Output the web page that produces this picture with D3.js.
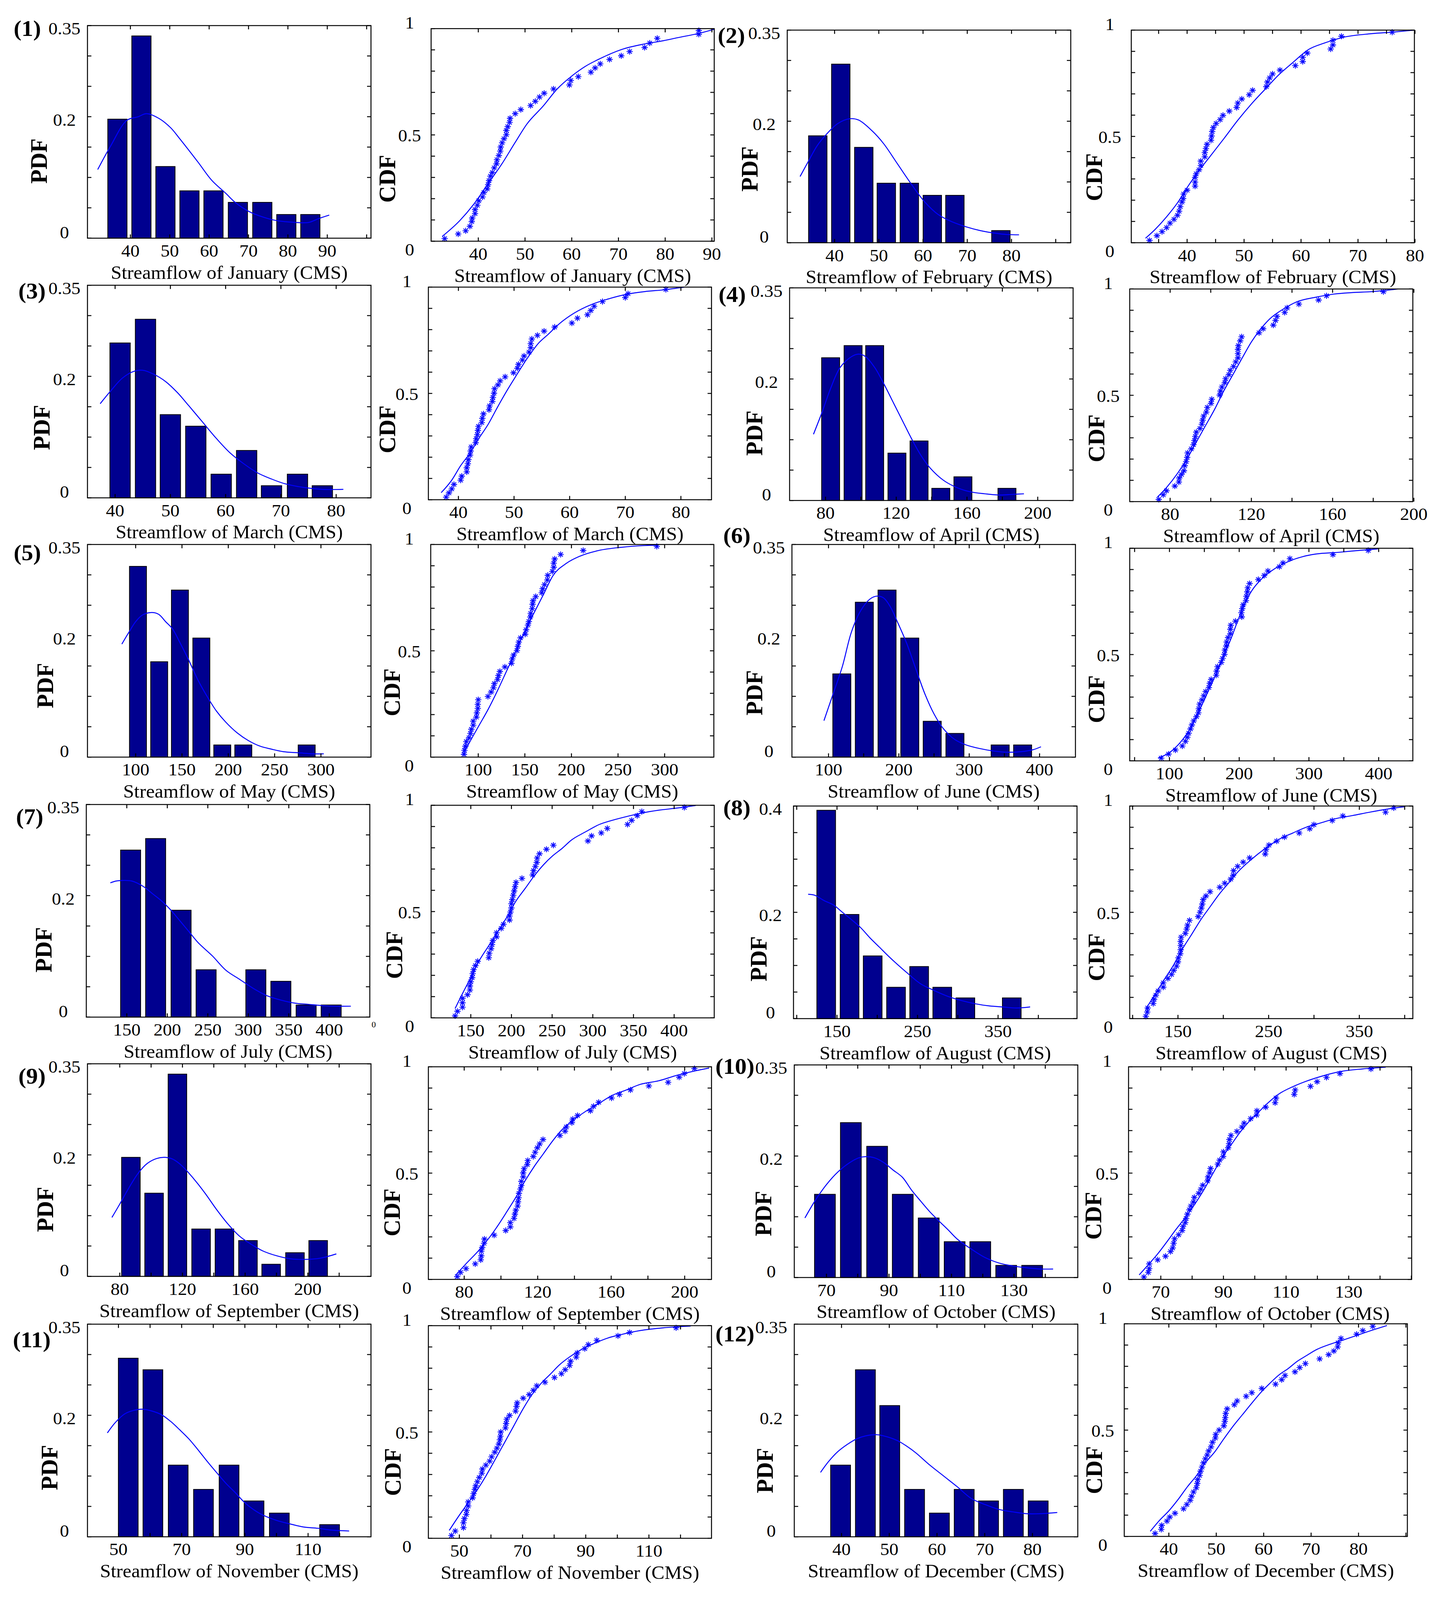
<!DOCTYPE html>
<html>
<head>
<meta charset="utf-8">
<script src="https://cdn.jsdelivr.net/npm/d3@7"></script>
<style>
  html, body { margin: 0; padding: 0; background: #fff; overflow: hidden; }
  svg { display: block; }
  text { font-family: "Liberation Serif", "Times New Roman", serif; fill: #000; }
</style>
</head>
<body>
<div id="chart"></div>
<script>
"use strict";

// ---- data ----
const months = ["January", "February", "March", "April", "May", "June",
  "July", "August", "September", "October", "November", "December"];

// histogram bin centres (CMS) and relative frequency
const binCenters = [
  [36.7, 42.8, 48.9, 55.0, 61.1, 67.3, 73.5, 79.6, 85.7],
  [36.2, 41.4, 46.6, 51.7, 56.9, 62.1, 67.2, 72.4, 77.6],
  [40.9, 45.5, 50.0, 54.6, 59.2, 63.8, 68.3, 73.0, 77.5],
  [82.9, 95.6, 107.8, 120.4, 132.9, 145.2, 157.7, 170.1, 182.6],
  [102.5, 125.4, 147.8, 170.9, 193.5, 216.2, 239.1, 262.0, 284.6],
  [118.9, 150.9, 183.2, 215.5, 247.4, 279.7, 312.0, 344.0, 375.9],
  [154.7, 185.6, 217.0, 247.9, 278.8, 309.3, 340.2, 371.4, 402.3],
  [136.6, 165.6, 194.3, 223.3, 252.0, 280.7, 309.4, 338.1, 367.0],
  [87.1, 101.9, 116.8, 131.9, 146.8, 161.8, 176.6, 191.8, 206.6],
  [69.5, 77.8, 86.2, 94.4, 102.7, 111.0, 119.2, 127.5, 135.8],
  [53.1, 60.9, 68.9, 76.9, 85.0, 92.9, 100.9, 108.8, 116.8],
  [39.8, 45.0, 50.1, 55.3, 60.5, 65.7, 70.8, 76.0, 81.2]
];
const binFreq = [
  [0.196, 0.333, 0.118, 0.078, 0.078, 0.059, 0.059, 0.039, 0.039],
  [0.176, 0.294, 0.157, 0.098, 0.098, 0.078, 0.078, 0, 0.020],
  [0.255, 0.294, 0.137, 0.118, 0.039, 0.078, 0.020, 0.039, 0.020],
  [0.235, 0.255, 0.255, 0.078, 0.098, 0.020, 0.039, 0, 0.020],
  [0.314, 0.157, 0.275, 0.196, 0.020, 0.020, 0, 0, 0.020],
  [0.137, 0.255, 0.275, 0.196, 0.059, 0.039, 0, 0.020, 0.020],
  [0.275, 0.294, 0.176, 0.078, 0, 0.078, 0.059, 0.020, 0.020],
  [0.392, 0.196, 0.118, 0.059, 0.098, 0.059, 0.039, 0, 0.039],
  [0.196, 0.137, 0.333, 0.078, 0.078, 0.059, 0.020, 0.039, 0.059],
  [0.137, 0.255, 0.216, 0.137, 0.098, 0.059, 0.059, 0.020, 0.020],
  [0.294, 0.275, 0.118, 0.078, 0.118, 0.059, 0.039, 0, 0.020],
  [0.118, 0.275, 0.216, 0.078, 0.039, 0.078, 0.059, 0.078, 0.059]
];

// fitted pdf curves [x, density]
const pdfFit = [
  [[31.7,0.113],[35.0,0.152],[39.1,0.194],[42.0,0.200],[44.1,0.205],[47.3,0.197],[50.2,0.182],[52.5,0.164],[57.2,0.125],[60.7,0.095],[64.2,0.074],[66.6,0.059],[70.1,0.044],[73.6,0.035],[77.1,0.029],[81.8,0.026],[85.3,0.026],[87.7,0.032],[90.5,0.038]],
  [[32.2,0.109],[34.0,0.133],[36.1,0.160],[38.1,0.178],[40.7,0.196],[43.3,0.204],[45.4,0.202],[48.5,0.184],[51.1,0.163],[54.2,0.130],[57.3,0.097],[60.4,0.067],[63.5,0.046],[66.7,0.034],[69.8,0.026],[72.9,0.020],[76.0,0.016],[79.1,0.0135],[81.7,0.013]],
  [[37.3,0.155],[39.2,0.176],[41.3,0.197],[43.3,0.208],[45.0,0.210],[47.1,0.203],[49.2,0.191],[51.3,0.173],[53.3,0.152],[55.8,0.125],[58.3,0.098],[60.8,0.074],[63.3,0.056],[65.8,0.041],[68.3,0.031],[70.8,0.023],[74.2,0.017],[77.5,0.014],[81.3,0.014]],
  [[73.2,0.109],[77.9,0.144],[83.1,0.186],[88.3,0.219],[94.8,0.237],[98.7,0.241],[102.6,0.237],[107.8,0.219],[113.0,0.192],[118.2,0.162],[123.4,0.132],[128.6,0.102],[133.8,0.075],[139.0,0.054],[146.8,0.033],[154.5,0.021],[162.3,0.014],[170.1,0.011],[177.9,0.009],[185.7,0.010],[192.2,0.011]],
  [[85.1,0.186],[92.5,0.205],[100.0,0.223],[107.5,0.234],[117.4,0.238],[124.9,0.235],[132.3,0.223],[139.8,0.211],[147.3,0.190],[157.2,0.160],[167.2,0.127],[177.1,0.100],[187.1,0.076],[197.0,0.058],[209.5,0.040],[221.9,0.027],[234.3,0.018],[246.8,0.013],[259.2,0.009],[276.6,0.007],[291.5,0.0054],[303.0,0.0054]],
  [[93.5,0.060],[106.5,0.104],[119.6,0.149],[132.6,0.206],[145.7,0.241],[158.7,0.260],[168.5,0.265],[178.3,0.262],[188.1,0.247],[197.8,0.223],[210.9,0.188],[223.9,0.146],[237.0,0.104],[250.0,0.071],[263.1,0.047],[279.4,0.029],[295.7,0.020],[315.3,0.014],[334.8,0.010],[354.4,0.008],[373.9,0.009],[390.3,0.012],[402.0,0.017]],
  [[129.7,0.221],[136.5,0.224],[145.0,0.225],[156.4,0.224],[170.5,0.215],[181.9,0.203],[193.2,0.191],[204.5,0.176],[215.9,0.158],[227.2,0.140],[238.5,0.122],[255.5,0.101],[272.5,0.077],[289.5,0.062],[306.5,0.047],[323.5,0.035],[340.5,0.028],[357.5,0.023],[374.5,0.021],[391.5,0.019],[408.5,0.018],[426.6,0.018]],
  [[114.2,0.234],[122.7,0.232],[134.1,0.222],[145.5,0.214],[156.8,0.200],[168.2,0.186],[179.5,0.171],[190.9,0.152],[202.3,0.135],[213.6,0.118],[225.0,0.102],[236.4,0.087],[253.4,0.066],[270.5,0.053],[287.5,0.042],[304.5,0.034],[321.6,0.028],[338.6,0.024],[355.7,0.022],[372.7,0.020],[389.8,0.022]],
  [[75.0,0.097],[80.0,0.119],[85.9,0.146],[91.8,0.170],[97.6,0.186],[103.5,0.194],[108.8,0.196],[113.8,0.193],[119.7,0.182],[127.1,0.161],[134.4,0.137],[141.8,0.110],[149.1,0.086],[156.5,0.066],[163.8,0.053],[171.2,0.042],[180.0,0.034],[188.8,0.029],[199.1,0.028],[208.0,0.030],[218.2,0.037]],
  [[63.1,0.098],[66.3,0.126],[70.0,0.153],[73.7,0.174],[77.4,0.189],[80.3,0.197],[82.5,0.199],[85.4,0.197],[88.4,0.189],[91.3,0.177],[94.3,0.165],[97.2,0.144],[100.1,0.126],[103.1,0.108],[106.0,0.093],[109.0,0.078],[111.9,0.063],[116.3,0.047],[120.7,0.033],[125.1,0.024],[129.6,0.019],[134.0,0.016],[138.4,0.014],[142.5,0.014]],
  [[46.5,0.171],[49.0,0.188],[51.9,0.202],[54.8,0.208],[57.7,0.210],[60.6,0.207],[63.6,0.201],[66.5,0.190],[69.4,0.176],[72.3,0.161],[75.2,0.143],[78.1,0.124],[81.0,0.106],[84.0,0.088],[86.9,0.073],[89.8,0.057],[92.7,0.045],[95.6,0.036],[100.0,0.027],[104.4,0.021],[108.7,0.016],[113.1,0.014],[117.5,0.011],[123.0,0.0095]],
  [[35.6,0.106],[37.3,0.124],[39.2,0.140],[41.2,0.152],[43.1,0.161],[45.0,0.166],[47.4,0.168],[49.8,0.164],[51.8,0.158],[53.7,0.149],[55.6,0.138],[58.5,0.118],[61.4,0.100],[64.3,0.082],[67.2,0.063],[70.1,0.053],[73.0,0.045],[75.9,0.041],[78.7,0.038],[81.6,0.038],[83.6,0.039],[85.2,0.040]]
];

// fitted cdf curves [x, F]
const cdfFit = [
  [[32.3,0.023],[36.0,0.096],[39.0,0.173],[42.0,0.268],[45.0,0.362],[47.9,0.465],[50.4,0.551],[53.9,0.636],[56.8,0.714],[60.3,0.782],[62.8,0.821],[65.7,0.855],[70.7,0.902],[75.6,0.928],[79.6,0.943],[82.6,0.957],[87.5,0.979],[90.5,0.997]],
  [[32.7,0.021],[34.4,0.063],[36.4,0.122],[38.4,0.191],[40.0,0.259],[42.0,0.336],[44.0,0.405],[46.5,0.491],[48.9,0.576],[51.3,0.653],[53.7,0.722],[56.1,0.790],[58.5,0.846],[61.4,0.910],[64.2,0.940],[67.4,0.966],[72.3,0.983],[76.3,0.991],[79.9,1.0]],
  [[36.9,0.033],[38.8,0.092],[40.4,0.160],[42.1,0.220],[43.7,0.289],[45.4,0.357],[47.0,0.434],[48.7,0.512],[50.3,0.580],[52.4,0.666],[54.5,0.739],[56.1,0.777],[58.2,0.829],[60.7,0.876],[64.0,0.919],[66.9,0.944],[70.2,0.966],[73.5,0.979],[76.8,0.987],[80.6,1.0]],
  [[73.7,0.021],[78.2,0.066],[83.8,0.135],[88.4,0.203],[92.9,0.280],[97.4,0.357],[101.9,0.434],[106.4,0.520],[110.9,0.597],[115.4,0.674],[120.0,0.751],[124.5,0.811],[129.0,0.859],[135.8,0.906],[142.5,0.940],[151.6,0.961],[160.6,0.976],[169.6,0.983],[178.6,0.987],[192.2,1.0]],
  [[83.7,0.013],[91.1,0.073],[101.0,0.150],[110.9,0.227],[120.7,0.313],[130.6,0.407],[140.5,0.501],[150.4,0.595],[160.2,0.681],[170.1,0.766],[180.0,0.852],[194.8,0.912],[209.6,0.946],[229.4,0.972],[254.1,0.987],[278.8,0.995],[293.6,0.997]],
  [[83.6,0.013],[103.3,0.047],[116.4,0.090],[129.5,0.150],[142.7,0.236],[155.8,0.330],[168.9,0.424],[178.8,0.501],[188.6,0.578],[198.5,0.664],[208.3,0.741],[218.2,0.801],[231.3,0.853],[251.0,0.904],[270.7,0.938],[290.4,0.960],[310.1,0.973],[342.9,0.981],[375.8,0.991],[398.8,0.997]],
  [[130.7,0.044],[137.5,0.097],[148.9,0.182],[160.2,0.268],[171.5,0.336],[182.9,0.404],[194.2,0.473],[205.6,0.550],[216.9,0.609],[228.2,0.669],[239.6,0.721],[250.9,0.763],[262.2,0.797],[273.6,0.836],[290.6,0.874],[307.6,0.909],[324.6,0.930],[341.6,0.947],[358.6,0.962],[381.3,0.977],[404.0,0.987],[426.6,0.999]],
  [[114.6,0.046],[124.7,0.114],[134.8,0.183],[145.0,0.251],[155.1,0.329],[165.2,0.397],[175.3,0.466],[185.4,0.526],[195.6,0.586],[205.7,0.637],[215.8,0.689],[231.0,0.749],[246.2,0.800],[261.4,0.843],[276.6,0.873],[291.8,0.901],[307.0,0.920],[322.2,0.939],[342.4,0.955],[362.7,0.972],[382.9,0.987],[400.6,0.997]],
  [[75.5,0.021],[80.5,0.069],[88.0,0.137],[93.0,0.189],[98.0,0.249],[103.1,0.317],[108.1,0.386],[113.1,0.463],[118.1,0.531],[123.1,0.591],[128.1,0.651],[133.1,0.703],[138.1,0.741],[145.7,0.788],[153.2,0.827],[160.7,0.866],[168.2,0.891],[175.7,0.917],[185.8,0.934],[195.8,0.960],[205.8,0.981],[213.3,0.994]],
  [[63.1,0.021],[66.0,0.069],[69.0,0.120],[71.9,0.176],[74.9,0.236],[77.8,0.291],[80.7,0.351],[83.7,0.420],[86.6,0.497],[89.6,0.574],[92.5,0.634],[95.4,0.694],[98.4,0.746],[101.3,0.788],[104.3,0.831],[107.9,0.874],[112.4,0.908],[116.8,0.934],[121.2,0.955],[127.1,0.977],[134.4,0.990],[141.8,0.998]],
  [[46.8,0.037],[49.7,0.102],[52.6,0.163],[55.5,0.224],[58.4,0.293],[61.4,0.372],[64.3,0.450],[67.2,0.528],[70.1,0.607],[73.0,0.676],[75.9,0.729],[78.8,0.772],[81.7,0.816],[84.6,0.850],[88.3,0.885],[92.6,0.916],[97.0,0.942],[101.4,0.959],[107.2,0.977],[114.5,0.990],[123.2,0.998]],
  [[36.1,0.024],[38.1,0.077],[40.0,0.120],[41.9,0.172],[43.9,0.233],[45.8,0.285],[47.7,0.346],[49.7,0.398],[51.6,0.459],[53.6,0.520],[55.5,0.572],[57.4,0.624],[59.4,0.677],[61.3,0.720],[63.2,0.759],[65.2,0.790],[67.1,0.824],[69.0,0.850],[71.0,0.877],[73.9,0.903],[76.8,0.924],[79.7,0.946],[82.6,0.968],[86.0,0.992]]
];

// empirical cdf points [x, F]
const cdfObs = [
  [[32.8,.012],[35.7,.034],[37.3,.049],[38.2,.070],[38.6,.092],[38.7,.109],[39.3,.130],[39.3,.149],[39.8,.169],[40.1,.190],[40.9,.208],[41.2,.229],[41.9,.246],[42.1,.266],[42.3,.285],[42.6,.306],[43.0,.323],[43.4,.345],[43.9,.364],[44.0,.383],[44.4,.403],[44.7,.424],[44.8,.443],[45.1,.463],[45.5,.482],[46.0,.501],[46.0,.521],[46.3,.539],[46.7,.559],[46.8,.578],[47.9,.600],[49.1,.619],[51.2,.638],[52.2,.658],[53.1,.678],[54.1,.696],[56.1,.716],[59.5,.735],[59.8,.756],[61.4,.774],[64.1,.795],[65.0,.815],[66.1,.834],[68.1,.855],[70.6,.872],[72.4,.892],[75.6,.911],[76.7,.932],[78.3,.954],[87.2,.973],[87.2,.991]],
  [[33.4,.011],[34.7,.033],[35.6,.052],[36.4,.071],[37.0,.092],[37.7,.110],[38.3,.129],[38.6,.148],[38.8,.170],[39.1,.191],[39.3,.208],[39.4,.229],[40.0,.247],[41.4,.266],[41.4,.285],[41.4,.307],[41.6,.324],[42.1,.343],[42.4,.363],[42.4,.384],[43.1,.404],[43.1,.424],[43.3,.443],[43.5,.463],[44.2,.482],[44.3,.502],[44.4,.523],[44.6,.542],[45.1,.561],[45.8,.579],[46.3,.599],[47.4,.619],[48.7,.636],[48.9,.657],[49.6,.676],[50.9,.696],[51.5,.717],[53.9,.734],[54.1,.756],[54.5,.775],[55.0,.794],[56.3,.812],[59.0,.833],[60.3,.852],[60.3,.872],[61.1,.892],[65.2,.911],[65.6,.930],[65.6,.952],[67.1,.971],[76.0,.990]],
  [[37.8,.012],[38.3,.032],[38.8,.051],[39.2,.072],[40.4,.092],[40.6,.111],[41.5,.131],[41.5,.150],[41.7,.169],[41.8,.189],[42.1,.210],[42.2,.229],[42.3,.248],[43.1,.268],[43.2,.287],[43.4,.306],[43.5,.326],[43.6,.345],[44.2,.363],[44.3,.383],[44.5,.404],[45.5,.423],[45.6,.441],[46.1,.462],[46.2,.481],[46.4,.501],[46.5,.522],[47.1,.540],[47.5,.559],[48.4,.578],[49.9,.597],[50.6,.618],[50.8,.637],[51.5,.657],[51.8,.676],[52.7,.694],[53.0,.715],[53.0,.734],[53.2,.756],[54.2,.773],[55.4,.793],[57.3,.812],[60.4,.831],[61.4,.854],[63.2,.870],[63.8,.890],[64.4,.910],[65.9,.932],[70.0,.951],[70.5,.969],[77.3,.989]],
  [[74.4,.010],[76.6,.032],[78.2,.051],[82.3,.073],[84.3,.092],[84.5,.111],[85.6,.128],[86.8,.145],[87.2,.169],[87.9,.188],[88.4,.208],[88.6,.229],[90.4,.248],[91.5,.268],[92.0,.287],[92.4,.306],[92.9,.327],[94.7,.344],[95.6,.364],[96.0,.383],[96.5,.402],[97.8,.421],[98.3,.443],[100.1,.462],[100.5,.481],[104.4,.501],[104.8,.520],[105.5,.539],[106.9,.559],[107.3,.578],[108.9,.597],[109.6,.617],[111.2,.636],[112.3,.657],[113.4,.676],[113.4,.696],[113.4,.716],[113.6,.734],[114.5,.756],[115.2,.775],[123.8,.794],[125.8,.813],[130.8,.830],[131.9,.852],[132.6,.871],[136.4,.890],[137.6,.911],[143.4,.929],[153.1,.948],[157.0,.968],[185.0,.987]],
  [[84.7,.013],[85.2,.032],[86.2,.051],[87.2,.073],[90.1,.091],[91.6,.111],[92.6,.131],[94.6,.150],[94.6,.169],[98.0,.188],[98.5,.208],[99.5,.229],[99.5,.248],[100.0,.270],[110.4,.285],[113.8,.306],[116.3,.326],[117.3,.346],[120.7,.365],[121.7,.384],[123.2,.403],[128.6,.424],[135.6,.441],[136.5,.462],[138.0,.480],[141.5,.501],[142.5,.521],[143.5,.541],[145.4,.561],[150.4,.578],[151.4,.599],[153.3,.621],[154.3,.638],[155.8,.659],[156.3,.676],[157.8,.698],[158.3,.719],[158.8,.736],[161.7,.755],[168.1,.773],[169.1,.792],[171.1,.811],[174.1,.833],[174.6,.855],[179.5,.873],[181.0,.893],[181.0,.912],[182.0,.932],[188.4,.953],[212.6,.972],[291.6,.991]],
  [[88.2,.013],[98.7,.032],[108.5,.051],[118.4,.070],[123.0,.092],[125.6,.111],[127.6,.130],[130.2,.150],[132.2,.169],[134.8,.188],[138.7,.208],[141.4,.226],[142.0,.245],[143.3,.267],[146.6,.287],[149.2,.306],[151.9,.326],[156.5,.345],[157.8,.365],[159.8,.383],[167.0,.403],[167.6,.422],[168.9,.443],[174.2,.463],[176.2,.482],[178.8,.501],[179.4,.521],[181.4,.540],[182.1,.559],[184.0,.580],[187.3,.598],[187.3,.619],[188.0,.638],[194.6,.657],[203.7,.677],[203.1,.697],[204.4,.716],[205.7,.734],[209.7,.754],[210.3,.774],[211.6,.795],[212.3,.814],[214.9,.834],[227.4,.853],[235.9,.872],[241.2,.893],[257.6,.913],[262.8,.931],[272.7,.951],[334.4,.970],[385.0,.990]],
  [[130.7,.009],[133.6,.031],[139.8,.050],[139.8,.071],[139.8,.092],[146.0,.109],[148.9,.131],[148.9,.150],[150.0,.170],[151.7,.189],[152.3,.208],[153.4,.227],[155.7,.246],[158.5,.266],[172.1,.283],[172.7,.304],[174.9,.325],[176.1,.345],[177.2,.364],[181.7,.381],[181.7,.400],[187.4,.421],[190.2,.440],[197.6,.460],[197.6,.479],[198.8,.498],[199.9,.517],[199.9,.537],[201.0,.556],[202.2,.577],[203.3,.597],[204.4,.617],[205.6,.637],[212.9,.656],[226.0,.672],[227.1,.693],[229.4,.712],[231.1,.731],[231.6,.752],[234.5,.772],[243.0,.793],[251.5,.812],[294.0,.832],[298.5,.856],[310.4,.870],[317.8,.891],[342.7,.910],[347.8,.929],[354.6,.951],[360.3,.970],[412.5,.990]],
  [[114.6,.011],[116.1,.031],[116.6,.050],[122.7,.071],[123.7,.091],[125.7,.110],[128.2,.130],[133.8,.148],[133.8,.168],[138.9,.189],[142.9,.208],[145.4,.227],[148.5,.247],[150.0,.267],[150.5,.286],[152.5,.305],[153.0,.324],[153.0,.344],[153.0,.363],[153.5,.383],[158.1,.401],[159.6,.421],[160.6,.440],[162.7,.462],[172.3,.480],[174.3,.500],[175.8,.520],[176.8,.539],[177.8,.560],[180.9,.577],[185.4,.597],[196.1,.618],[201.6,.637],[208.2,.656],[210.8,.674],[211.3,.696],[215.8,.716],[221.9,.736],[229.0,.756],[246.2,.774],[247.2,.796],[250.3,.816],[258.9,.835],[267.5,.854],[283.7,.873],[295.3,.893],[299.9,.912],[320.1,.932],[331.8,.953],[378.9,.971],[388.0,.991]],
  [[76.2,.013],[78.0,.033],[81.0,.051],[86.0,.073],[89.0,.092],[89.3,.111],[89.3,.133],[89.8,.150],[90.8,.170],[91.0,.190],[96.3,.208],[102.6,.230],[105.1,.247],[105.1,.267],[107.1,.287],[107.6,.307],[108.1,.326],[109.1,.345],[109.3,.365],[109.6,.384],[109.8,.405],[110.6,.425],[111.1,.442],[111.1,.461],[112.1,.482],[112.1,.501],[112.6,.521],[114.3,.540],[114.6,.559],[117.6,.578],[118.6,.598],[119.8,.619],[121.1,.637],[122.9,.658],[132.1,.677],[134.9,.697],[135.6,.717],[138.6,.737],[139.1,.754],[141.7,.771],[148.7,.793],[150.4,.814],[153.2,.833],[160.2,.853],[164.5,.870],[170.5,.891],[180.5,.910],[191.0,.927],[197.0,.951],[199.8,.968],[205.3,.992]],
  [[64.6,.011],[66.0,.033],[66.3,.051],[66.3,.073],[69.0,.092],[71.5,.109],[73.1,.131],[73.8,.148],[74.1,.170],[74.4,.191],[75.7,.210],[76.8,.230],[77.1,.249],[77.8,.267],[78.1,.287],[78.5,.307],[79.1,.327],[79.6,.345],[80.4,.364],[80.7,.386],[82.1,.405],[82.8,.424],[83.4,.443],[84.9,.463],[85.1,.482],[85.6,.501],[85.9,.522],[88.2,.542],[88.8,.561],[89.9,.578],[90.0,.600],[91.5,.619],[91.8,.638],[91.9,.658],[92.4,.677],[94.3,.696],[95.9,.716],[96.6,.735],[98.7,.756],[100.6,.773],[100.7,.793],[103.5,.810],[106.5,.831],[106.8,.853],[112.6,.870],[112.9,.891],[117.8,.908],[119.9,.930],[122.9,.950],[127.2,.968],[137.1,.990]],
  [[47.5,.013],[48.7,.034],[51.3,.050],[51.3,.073],[51.6,.093],[52.2,.112],[52.3,.131],[52.8,.152],[52.8,.171],[54.2,.190],[54.5,.210],[54.9,.230],[55.2,.247],[55.7,.266],[56.3,.286],[57.1,.306],[57.3,.326],[58.4,.344],[59.6,.363],[60.2,.383],[61.2,.405],[61.9,.424],[62.5,.443],[62.8,.463],[63.0,.480],[63.1,.500],[64.6,.519],[64.8,.540],[65.0,.560],[65.9,.578],[67.8,.598],[68.1,.620],[68.3,.637],[70.2,.659],[72.1,.676],[73.4,.696],[74.5,.717],[77.1,.734],[80.1,.756],[82.3,.774],[83.5,.793],[84.9,.813],[85.2,.833],[87.0,.852],[87.3,.872],[89.7,.892],[90.8,.911],[93.5,.931],[100.2,.952],[103.9,.968],[118.6,.990]],
  [[37.1,.014],[38.4,.033],[38.5,.052],[39.6,.072],[40.2,.091],[41.3,.109],[43.1,.130],[43.8,.150],[44.5,.170],[44.8,.189],[45.2,.209],[45.8,.229],[46.0,.249],[46.1,.268],[46.5,.287],[46.7,.307],[47.0,.326],[47.3,.346],[47.7,.365],[48.1,.383],[48.4,.402],[48.9,.421],[49.2,.443],[49.8,.463],[49.9,.480],[50.6,.500],[51.6,.520],[51.8,.541],[51.9,.559],[52.0,.579],[52.3,.600],[53.8,.619],[54.4,.637],[56.3,.659],[57.5,.676],[59.6,.696],[62.5,.716],[63.8,.737],[64.5,.757],[66.6,.774],[67.6,.794],[68.8,.813],[71.8,.835],[73.7,.855],[74.8,.872],[75.6,.891],[75.7,.911],[76.3,.931],[79.6,.951],[80.9,.968],[83.0,.988]]
];

// axis ranges and tick labels
const pdfXRange = [[29.1,101.1],[29.3,93.4],[35,86.3],[59.7,220],[48,354],[48,451],
  [100,450],[96,448],[59.4,240.3],[59.7,150.4],[40.2,129.9],[30.1,89.5]];
const cdfXRange = [[29.9,90.5],[30.2,79.9],[34.6,85.5],[60.1,199.5],[49,352.8],[43,449],
  [101.2,449.3],[96.8,409],[60.5,214.6],[59.7,150.1],[40.2,129.8],[30.6,90.3]];
const xTickLabels = [
  [40,50,60,70,80,90], [40,50,60,70,80], [40,50,60,70,80], [80,120,160,200],
  [100,150,200,250,300], [100,200,300,400], [150,200,250,300,350,400], [150,250,350],
  [80,120,160,200], [70,90,110,130], [50,70,90,110], [40,50,60,70,80]
];
const pdfXTicks = [
  [40,50,60,70,80,90,100], [40,50,60,70,80,90], [40,50,60,70,80], [80,100,120,140,160,180,200],
  [100,150,200,250,300], [100,150,200,250,300,350,400], [150,200,250,300,350,400], [100,150,200,250,300,350,400],
  [80,100,120,140,160,180,200,220], [70,80,90,100,110,120,130,140], [50,60,70,80,90,100,110,120], [40,50,60,70,80]
];
const cdfXTicks = [
  [40,50,60,70,80,90], [35,40,45,50,55,60,65,70,75,80], [40,50,60,70,80], [80,100,120,140,160,180,200],
  [100,150,200,250,300], [50,100,150,200,250,300,350,400], [150,200,250,300,350,400], [100,150,200,250,300,350,400],
  [80,100,120,140,160,180,200], [70,80,90,100,110,120,130,140,150], [50,60,70,80,90,100,110,120], [40,50,60,70,80,90]
];
const pdfYMax = [0.35,0.35,0.35,0.35,0.35,0.35,0.35,0.4,0.35,0.35,0.35,0.35];
const pdfYLabels = [0, 0.2, 0.35];
const pdfYLabelsAug = [0, 0.2, 0.4];
const pdfYTicks = [0,0.05,0.1,0.15,0.2,0.25,0.3,0.35,0.4];
const cdfYLabels = [0, 0.5, 1];
const cdfYTicks = [0,0.1,0.2,0.3,0.4,0.5,0.6,0.7,0.8,0.9,1];

// ---- layout (pixels of the 3685 x 4252 figure) ----
const W = 3685, H = 4252;
const boxW = 726, boxH = 565;
const pdfBox = [[224,68],[2016,80],[224,758],[2022,765],[224,1447],[2028,1447],
  [221,2138],[2032,2142],[224,2827],[2034,2830],[224,3519],[2034,3519]];
const cdfBox = [[1104,76],[2897,80],[1097,763],[2893,768],[1103,1447],[2893,1457],
  [1104,2140],[2893,2142],[1097,2835],[2890,2835],[1097,3523],[2879,3518]];
const pdfYTitle = [[120,428],[1940,449],[127,1136],[1952,1151],[136,1822],[1952,1841],
  [132,2524],[1963,2548],[136,3214],[1975,3225],[147,3900],[1979,3908]];
const cdfYTitle = [[1012,475],[2822,471],[1012,1141],[2828,1165],[1024,1840],[2828,1858],
  [1030,2538],[2828,2544],[1024,3222],[2820,3231],[1026,3912],[2822,3907]];
const panelTag = [[35,96],[1838,114],[47,793],[1840,802],[35,1489],[1852,1443],
  [41,2190],[1852,2167],[47,2880],[1832,2854],[33,3580],[1832,3565]];

const tickLen = 10;
const blue = "#0000ff";
const barFill = "#00008f";

// fit the whole figure into whatever viewport the page gets
const vw = window.innerWidth || W;
const vh = window.innerHeight || H;

const svg = d3.select("#chart").append("svg")
  .attr("width", vw)
  .attr("height", vh)
  .attr("viewBox", [0, 0, W, H].join(" "))
  .attr("preserveAspectRatio", "none");

svg.append("rect").attr("width", W).attr("height", H).attr("fill", "#fff");

function drawFrame(g, x, y, xTicks, yTicks) {
  let [x0, x1] = x.range();
  let [y0, y1] = y.range(); // y0 bottom, y1 top

  g.append("rect")
    .attr("x", x0).attr("y", y1)
    .attr("width", x1 - x0).attr("height", y0 - y1)
    .attr("fill", "none")
    .attr("stroke", "#000")
    .attr("stroke-width", 2.5);

  let ticks = g.append("g").attr("stroke", "#000").attr("stroke-width", 2.5);

  xTicks.forEach(v => {
    let px = x(v);
    ticks.append("line").attr("x1", px).attr("x2", px).attr("y1", y0).attr("y2", y0 - tickLen);
    ticks.append("line").attr("x1", px).attr("x2", px).attr("y1", y1).attr("y2", y1 + tickLen);
  });
  yTicks.forEach(v => {
    let py = y(v);
    ticks.append("line").attr("x1", x0).attr("x2", x0 + tickLen).attr("y1", py).attr("y2", py);
    ticks.append("line").attr("x1", x1).attr("x2", x1 - tickLen).attr("y1", py).attr("y2", py);
  });
}

function drawXText(g, x, y, labels, title) {
  let bottom = y.range()[0];
  g.selectAll(".xtick")
    .data(labels)
    .enter().append("text")
    .attr("x", d => x(d))
    .attr("y", bottom + 49)
    .attr("text-anchor", "middle")
    .attr("font-size", 47)
    .text(d => d);

  let [x0, x1] = x.range();
  g.append("text")
    .attr("x", (x0 + x1) / 2)
    .attr("y", bottom + 108)
    .attr("text-anchor", "middle")
    .attr("font-size", 50)
    .text(title);
}

function drawYTitle(g, pos, label) {
  g.append("text")
    .attr("transform", `translate(${pos[0]}, ${pos[1]}) rotate(-90)`)
    .attr("text-anchor", "middle")
    .attr("font-size", 62)
    .attr("font-weight", "bold")
    .text(label);
}

function drawPdf(m) {
  let [left, top] = pdfBox[m];
  let x = d3.scaleLinear().domain(pdfXRange[m]).range([left, left + boxW]);
  let y = d3.scaleLinear().domain([0, pdfYMax[m]]).range([top + boxH, top]);
  let g = svg.append("g");

  // bars, 0.8 of the bin spacing wide
  let step = x(binCenters[m][1]) - x(binCenters[m][0]);
  let barW = step * 0.8;
  let bars = binCenters[m].map((c, i) => ({ c: c, f: binFreq[m][i] })).filter(d => d.f > 0);
  g.selectAll(".bar")
    .data(bars)
    .enter().append("rect")
    .attr("x", d => x(d.c) - barW / 2)
    .attr("y", d => y(d.f))
    .attr("width", barW)
    .attr("height", d => y(0) - y(d.f))
    .attr("fill", barFill)
    .attr("stroke", "#000")
    .attr("stroke-width", 2);

  // fitted density
  let line = d3.line()
    .x(d => x(d[0]))
    .y(d => y(d[1]))
    .curve(d3.curveCatmullRom.alpha(0.5));
  g.append("path")
    .attr("d", line(pdfFit[m]))
    .attr("fill", "none")
    .attr("stroke", blue)
    .attr("stroke-width", 2.5);

  drawFrame(g, x, y, pdfXTicks[m], pdfYTicks.filter(v => v <= pdfYMax[m] + 1e-9));

  // y tick labels, centred in a column left of the box
  let yLabels = pdfYMax[m] > 0.36 ? pdfYLabelsAug : pdfYLabels;
  g.selectAll(".ytick")
    .data(yLabels)
    .enter().append("text")
    .attr("x", left - 59)
    .attr("y", d => d === 0 ? y(d) - 16 : y(d) + 8)
    .attr("dominant-baseline", "central")
    .attr("text-anchor", "middle")
    .attr("font-size", 47)
    .text(d => d);

  drawXText(g, x, y, xTickLabels[m], "Streamflow of " + months[m] + " (CMS)");
  drawYTitle(g, pdfYTitle[m], "PDF");

  g.append("text")
    .attr("x", panelTag[m][0])
    .attr("y", panelTag[m][1])
    .attr("font-size", 60)
    .attr("font-weight", "bold")
    .text("(" + (m + 1) + ")");
}

function starPath(s) {
  let d = s * 0.7071;
  return `M${-s},0L${s},0M0,${-s}L0,${s}M${-d},${-d}L${d},${d}M${-d},${d}L${d},${-d}`;
}

function drawCdf(m) {
  let [left, top] = cdfBox[m];
  let x = d3.scaleLinear().domain(cdfXRange[m]).range([left, left + boxW - 1]);
  let y = d3.scaleLinear().domain([0, 1]).range([top + boxH, top]);
  let g = svg.append("g");

  let line = d3.line()
    .x(d => x(d[0]))
    .y(d => y(d[1]))
    .curve(d3.curveMonotoneX);
  g.append("path")
    .attr("d", line(cdfFit[m]))
    .attr("fill", "none")
    .attr("stroke", blue)
    .attr("stroke-width", 2.5);

  g.selectAll(".star")
    .data(cdfObs[m])
    .enter().append("path")
    .attr("transform", d => `translate(${x(d[0])}, ${y(d[1])})`)
    .attr("d", starPath(8))
    .attr("fill", "none")
    .attr("stroke", blue)
    .attr("stroke-width", 2.2);

  drawFrame(g, x, y, cdfXTicks[m], cdfYTicks);

  g.selectAll(".ytick")
    .data(cdfYLabels)
    .enter().append("text")
    .attr("x", left - 55)
    .attr("y", d => d === 1 ? y(d) - 16 : (d === 0 ? y(d) + 22 : y(d) + 2))
    .attr("dominant-baseline", "central")
    .attr("text-anchor", "middle")
    .attr("font-size", 47)
    .text(d => d);

  drawXText(g, x, y, xTickLabels[m], "Streamflow of " + months[m] + " (CMS)");
  drawYTitle(g, cdfYTitle[m], "CDF");
}

months.forEach((name, m) => {
  drawPdf(m);
  drawCdf(m);
});

// stray mark beside panel (7)
svg.append("text")
  .attr("x", 957).attr("y", 2730)
  .attr("text-anchor", "middle")
  .attr("font-size", 22)
  .text("0");
</script>
</body>
</html>
